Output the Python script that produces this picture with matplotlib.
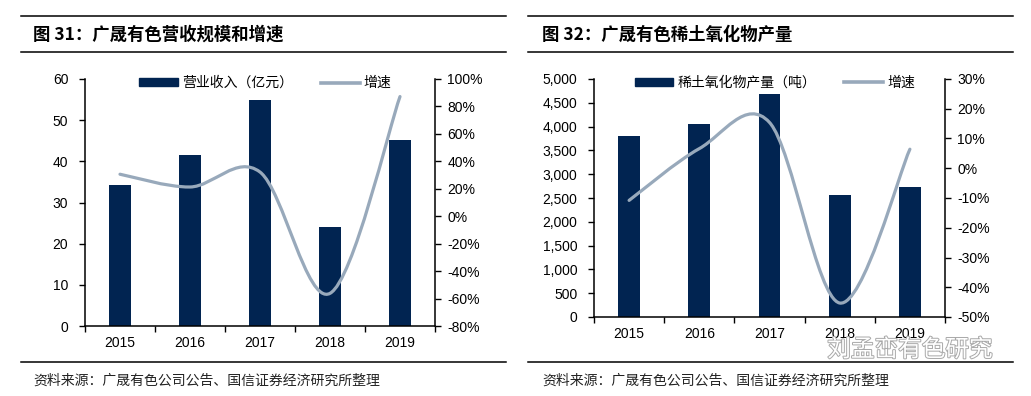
import matplotlib
matplotlib.use('Agg')
import matplotlib.pyplot as plt
import matplotlib.patheffects as pe
from matplotlib.path import Path
from matplotlib.patches import PathPatch
from matplotlib.lines import Line2D
from matplotlib.ticker import FuncFormatter, MultipleLocator
import numpy as np

plt.rcParams['font.family'] = ['Liberation Sans', 'Noto Sans CJK SC', 'DejaVu Sans']
CJK = ['Noto Sans CJK SC', 'DejaVu Sans']

BAR_COLOR = '#012451'
LINE_COLOR = '#98a9bb'

# --- Data ---
years = ['2015', '2016', '2017', '2018', '2019']

revenue = [34.3, 41.6, 55.0, 24.1, 45.1]          # 亿元
revenue_growth = [30.6, 21.3, 32.2, -56.2, 87.2]  # %

rare_earth = [3808, 4060, 4684, 2560, 2728]       # 吨
rare_earth_growth = [-10.8, 6.6, 15.4, -45.3, 6.4]  # %

titles = ['图 31：广晟有色营收规模和增速', '图 32：广晟有色稀土氧化物产量']
bar_labels = ['营业收入（亿元）', '稀土氧化物产量（吨）']
line_label = '增速'
source = '资料来源：广晟有色公司公告、国信证券经济研究所整理'


def smooth_path(xs, ys):
    # Excel style smoothed line: cubic Bezier segments through the points
    pts = np.column_stack([xs, ys]).astype(float)
    n = len(pts)
    verts = [pts[0]]
    codes = [Path.MOVETO]
    for i in range(n - 1):
        p0 = pts[i - 1] if i > 0 else pts[i]
        p1, p2 = pts[i], pts[i + 1]
        p3 = pts[i + 2] if i + 2 < n else pts[i + 1]
        c1 = p1 + (p2 - p0) / 6
        c2 = p2 - (p3 - p1) / 6
        verts += [c1, c2, p2]
        codes += [Path.CURVE4] * 3
    return Path(verts, codes)


def draw_panel(rect, bars, growth, ylim, ystep, y2lim, y2step, bar_label, yfmt):
    ax = fig.add_axes(rect)
    x = np.arange(len(years))
    ax.bar(x, bars, width=0.31, color=BAR_COLOR, zorder=2)
    ax.set_xlim(-0.5, len(years) - 0.5)
    ax.set_ylim(*ylim)
    ax.yaxis.set_major_locator(MultipleLocator(ystep))
    ax.yaxis.set_major_formatter(FuncFormatter(yfmt))
    ax.set_xticks(x)
    ax.set_xticklabels(years)
    ax.set_xticks(np.arange(len(years) + 1) - 0.5, minor=True)
    ax.tick_params(axis='x', which='major', length=0, pad=7, labelsize=10)
    ax.tick_params(axis='x', which='minor', length=4, width=1, direction='out')
    ax.tick_params(axis='y', length=4, width=1, direction='out', pad=8, labelsize=10)
    ax.spines['top'].set_visible(False)
    ax.spines['right'].set_visible(False)
    for s in ['left', 'bottom']:
        ax.spines[s].set_linewidth(1.1)

    ax2 = ax.twinx()
    ax2.set_ylim(*y2lim)
    ax2.yaxis.set_major_locator(MultipleLocator(y2step))
    ax2.yaxis.set_major_formatter(FuncFormatter(lambda v, p: f'{v:.0f}%'))
    ax2.tick_params(axis='y', length=4, width=1, direction='out', pad=5, labelsize=10)
    for s in ['top', 'left', 'bottom']:
        ax2.spines[s].set_visible(False)
    ax2.spines['right'].set_linewidth(1.1)
    ax2.add_patch(PathPatch(smooth_path(x, growth), facecolor='none',
                            edgecolor=LINE_COLOR, linewidth=2.3, zorder=3,
                            capstyle='round'))

    handles = [plt.Rectangle((0, 0), 1, 1, color=BAR_COLOR),
               Line2D([], [], color=LINE_COLOR, linewidth=2.6)]
    ax2.legend(handles, [bar_label, line_label], ncol=2, frameon=False,
               loc='center', bbox_to_anchor=(0.515, 0.984),
               prop={'family': CJK, 'size': 10}, handlelength=2.8,
               handleheight=0.5, columnspacing=2.0, handletextpad=0.3)
    return ax, ax2


fig = plt.figure(figsize=(10.31, 3.96), dpi=100)

draw_panel([85 / 1031, 70 / 396, 350 / 1031, 247 / 396],
           revenue, revenue_growth, (0, 60), 10, (-80, 100), 20,
           bar_labels[0], lambda v, p: f'{v:.0f}')
draw_panel([594 / 1031, 79 / 396, 351 / 1031, 238 / 396],
           rare_earth, rare_earth_growth, (0, 5000), 500, (-50, 30), 10,
           bar_labels[1], lambda v, p: f'{v:,.0f}')

# Title and source rules
for x0, x1, tx, title in [(21, 506, 33, titles[0]), (528, 1013, 542, titles[1])]:
    for yy in [16, 52, 362]:
        fig.add_artist(Line2D([x0 / 1031, x1 / 1031], [1 - yy / 396] * 2,
                              color='black', linewidth=1.1))
    fig.text(tx / 1031, 1 - 35 / 396, title, family=CJK, fontsize=12.5,
             fontweight='bold', va='center', ha='left')
    fig.text(tx / 1031, 1 - 381 / 396, source, family=CJK, fontsize=10,
             va='center', ha='left', color='#222222')

# Watermark
fig.text(910 / 1031, 1 - 350 / 396, '刘孟峦有色研究', family=CJK, fontsize=17,
         color='white', ha='center', va='center', zorder=10,
         path_effects=[pe.Stroke(linewidth=1.4, foreground='#a8a8a8'), pe.Normal()])

fig.savefig('out.png', dpi=100, facecolor='white')
